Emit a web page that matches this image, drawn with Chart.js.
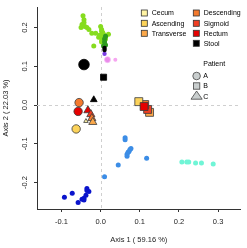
<!DOCTYPE html>
<html><head><meta charset="utf-8">
<script src="https://cdn.jsdelivr.net/npm/chart.js@4.4.1/dist/chart.umd.min.js"></script>
<style>html,body{margin:0;padding:0;background:#fff}#w{width:247px;height:248px}</style>
</head><body><div id="w"><canvas id="c" width="247" height="248"></canvas></div>
<script>
const xTicks=[-0.1,0.0,0.1,0.2,0.3];
const yTicks=[-0.2,-0.1,0.0,0.1,0.2];
const xRange=[-0.1625,0.3575];
const yRange=[-0.268,0.2528];
const xTitle='Axis 1 ( 59.16 %)';
const yTitle='Axis 2 ( 22.03 %)';

const sites=['Cecum','Ascending','Transverse','Descending','Sigmoid','Rectum','Stool'];
const siteColors=['#FFF3A3','#FCD35A','#FBA84A','#F47A2E','#F03E23','#E50000','#000000'];
const patients=['A','B','C'];

// Patient A (circles)
const patientASites=['Descending','Rectum','Ascending','Stool'];
const patientAX=[-0.055,-0.0575,-0.0625,-0.0425];
const patientAY=[0.0063,-0.0164,-0.0616,0.1044];
// Patient B (squares)
const patientBSites=['Transverse','Sigmoid','Descending','Ascending','Rectum','Stool'];
const patientBX=[0.125,0.12,0.1125,0.0975,0.111,0.0075];
const patientBY=[-0.0189,-0.0113,0.0013,0.0088,-0.0038,0.0717];
// Patient C (triangles)
const patientCSites=['Rectum','Sigmoid','Descending','Transverse','Cecum','Stool'];
const patientCX=[-0.0325,-0.025,-0.0225,-0.02,-0.0375,-0.0175];
const patientCY=[-0.0138,-0.0239,-0.034,-0.044,-0.0415,0.0138];

// other sample groups (small dots)
const limeX=[-0.045,-0.0425,-0.0425,-0.0475,-0.05,-0.04,-0.035,-0.03,-0.0225,-0.0125,0,0.0025,0.0025,0.005,0.0075,-0.0025,0.0125,-0.005,0,0.0125,0.0025,0.0025,-0.0175,0.02];
const limeY=[0.230,0.220,0.2126,0.2075,0.200,0.2025,0.200,0.195,0.185,0.185,0.2025,0.195,0.190,0.1874,0.1824,0.180,0.175,0.175,0.175,0.170,0.165,0.1623,0.152,0.1824];
const darkGreenX=[0.0125,0.01,0.01,0.0125,0.0075];
const darkGreenY=[0.1774,0.170,0.1623,0.1547,0.152];
const blackX=[0.01,0.01];
const blackY=[0.147,0.142];
const purpleX=[0.01];
const purpleY=[0.132];
const pinkX=[0.0175];
const pinkY=[0.117];
const lightPinkX=[0.0375];
const lightPinkY=[0.117];
const lightBlueX=[0.0625,0.0625,0.0775,0.075,0.0725,0.07,0.0675,0.0675,0.1175,0.045,0.01];
const lightBlueY=[-0.0843,-0.0893,-0.112,-0.1145,-0.1195,-0.122,-0.127,-0.132,-0.137,-0.1547,-0.185];
const cyanX=[0.2075,0.22,0.225,0.2425,0.2575,0.2875];
const cyanY=[-0.147,-0.147,-0.147,-0.1497,-0.1497,-0.152];
const darkBlueX=[-0.0925,-0.0725,-0.0575,-0.0475,-0.0425,-0.0375,-0.035,-0.03,-0.035,-0.0425];
const darkBlueY=[-0.2377,-0.2277,-0.2514,-0.2428,-0.2405,-0.2327,-0.220,-0.2226,-0.2151,-0.245];

const FONT='"Liberation Sans", Arial, Helvetica, sans-serif';
const pts=(xs,ys)=>xs.map((x,i)=>({x:x,y:ys[i]}));
const colorOf=s=>siteColors[sites.indexOf(s)];

function smallSet(label,xs,ys,color,r,border){
  return {label:label,data:pts(xs,ys),pointStyle:'circle',pointRadius:r||2.5,
    backgroundColor:color,borderColor:border||color,pointBorderWidth:border?0.8:0};
}
function patientSet(p,siteArr,xs,ys,style,rColon,rStool,rCecum){
  return {label:'Patient '+p,data:pts(xs,ys),pointStyle:style,
    backgroundColor:siteArr.map(colorOf),
    borderColor:siteArr.map(s=>s==='Stool'?'#000':'#3a3a3a'),
    pointBorderWidth:0.8,
    pointRadius:ctx=>{const s=siteArr[ctx.dataIndex];return s==='Stool'?rStool:(s==='Cecum'&&rCecum?rCecum:rColon);}};
}

// first in list = drawn on top
const datasets=[
  patientSet('C',patientCSites,patientCX,patientCY,'triangle',4.7,3.9,2.6),
  patientSet('A',patientASites,patientAX,patientAY,'circle',4.2,5.3),
  patientSet('B',patientBSites,patientBX,patientBY,'rect',5.6,4.3),
  smallSet('black',blackX,blackY,'#000000',2.2),
  smallSet('purple',purpleX,purpleY,'#7B3FE4',2.2),
  smallSet('pink',pinkX,pinkY,'#E98AEA',3,'#F6BDF6'),
  smallSet('lightpink',lightPinkX,lightPinkY,'#F6A6F0',2),
  smallSet('darkgreen',darkGreenX,darkGreenY,'#2E9A1E'),
  smallSet('lime',limeX,limeY,'#86DC1E'),
  smallSet('lightblue',lightBlueX,lightBlueY,'#3C8DE6'),
  smallSet('cyan',cyanX,cyanY,'#70F5D6'),
  smallSet('darkblue',darkBlueX,darkBlueY,'#0A14CC')
];

const zeroLines={id:'zeroLines',beforeDatasetsDraw(chart){
  const {ctx,chartArea:a,scales:{x,y}}=chart;
  ctx.save();ctx.strokeStyle='#cfcfcf';ctx.lineWidth=1;ctx.setLineDash([3,3]);
  const px=Math.round(x.getPixelForValue(0))+0.5, py=Math.round(y.getPixelForValue(0))+0.5;
  ctx.beginPath();ctx.moveTo(px,a.top);ctx.lineTo(px,a.bottom);ctx.stroke();
  ctx.beginPath();ctx.moveTo(a.left,py);ctx.lineTo(a.right,py);ctx.stroke();
  ctx.restore();
}};

const legendPlugin={id:'customLegend',afterDraw(chart){
  const ctx=chart.ctx;ctx.save();
  ctx.font='7px '+FONT;ctx.textBaseline='middle';ctx.textAlign='left';
  const cols=[{x:144.3,items:sites.slice(0,3)},{x:196.3,items:sites.slice(3)}];
  const rows=[13,23.3,33.3,43.3];
  cols.forEach(c=>c.items.forEach((s,i)=>{
    ctx.fillStyle=colorOf(s);ctx.strokeStyle='#333';ctx.lineWidth=0.8;
    ctx.fillRect(c.x-3,rows[i]-3,6,6);ctx.strokeRect(c.x-3,rows[i]-3,6,6);
    ctx.fillStyle='#000';ctx.fillText(s,c.x+7.4,rows[i]+0.3);
  }));
  ctx.fillStyle='#000';ctx.fillText('Patient',203.3,64.5);
  const gy=[76,86,96];const gx=196.6;
  ctx.fillStyle='#C9CECE';ctx.strokeStyle='#444';ctx.lineWidth=0.8;
  ctx.beginPath();ctx.arc(gx,gy[0],3.8,0,Math.PI*2);ctx.fill();ctx.stroke();
  ctx.fillRect(gx-3.2,gy[1]-3.2,6.4,6.4);ctx.strokeRect(gx-3.2,gy[1]-3.2,6.4,6.4);
  ctx.beginPath();ctx.moveTo(gx,gy[2]-5);ctx.lineTo(gx+5.6,gy[2]+3.2);ctx.lineTo(gx-5.6,gy[2]+3.2);ctx.closePath();ctx.fill();ctx.stroke();
  ctx.fillStyle='#000';
  patients.forEach((p,i)=>ctx.fillText(p,203.3,gy[i]+(i===2?1:0)));
  ctx.restore();
}};

const tickFont={size:7.5,family:FONT};
new Chart(document.getElementById('c'),{
  type:'scatter',
  data:{datasets:datasets},
  options:{
    responsive:false,animation:false,devicePixelRatio:1,
    layout:{padding:{top:2,right:2,left:0,bottom:0}},
    plugins:{legend:{display:false},tooltip:{enabled:false}},
    scales:{
      x:{type:'linear',min:xRange[0],max:xRange[1],
        afterBuildTicks:s=>{s.ticks=xTicks.map(v=>({value:v}));},
        afterFit:s=>{s.height=39;},
        ticks:{callback:v=>Number(v).toFixed(1),font:tickFont,color:'#222',padding:5,maxRotation:0,autoSkip:false},
        grid:{drawOnChartArea:false,drawTicks:true,tickLength:3,tickColor:'#333',tickWidth:1},
        border:{display:true,color:'#333',width:1},
        title:{display:true,text:xTitle,font:{size:7.5,family:FONT},color:'#222',padding:{top:0,bottom:3.5}}
      },
      y:{type:'linear',min:yRange[0],max:yRange[1],
        afterBuildTicks:s=>{s.ticks=yTicks.map(v=>({value:v}));},
        afterFit:s=>{s.width=37;},
        ticks:{callback:v=>Number(v).toFixed(1),font:tickFont,color:'#222',padding:2.5,minRotation:90,maxRotation:90,crossAlign:'center',autoSkip:false},
        grid:{drawOnChartArea:false,drawTicks:true,tickLength:3,tickColor:'#333',tickWidth:1},
        border:{display:true,color:'#333',width:1},
        title:{display:true,text:yTitle,font:{size:7.5,family:FONT},color:'#222',padding:{top:1.5,bottom:0}}
      }
    }
  },
  plugins:[zeroLines,legendPlugin]
});
</script></body></html>
